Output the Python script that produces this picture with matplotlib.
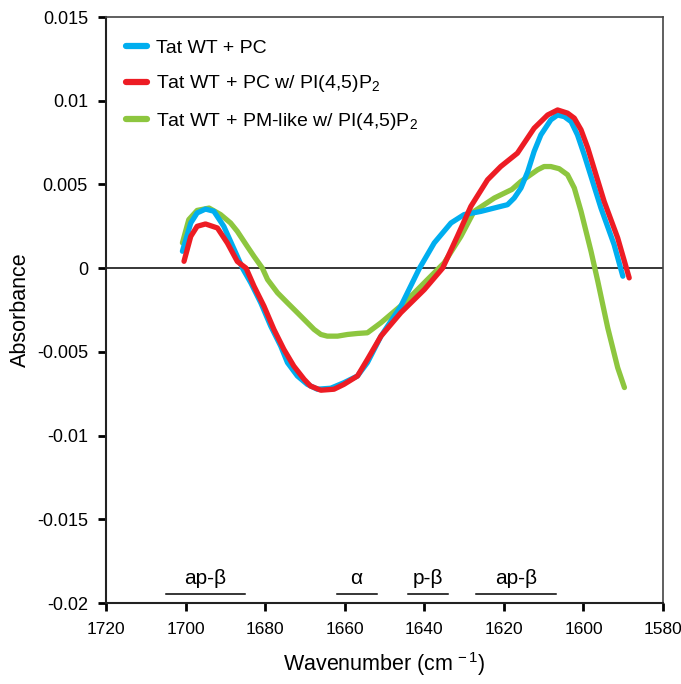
import matplotlib
matplotlib.use("Agg")
import matplotlib.pyplot as plt
from matplotlib.ticker import FixedLocator, FixedFormatter
from matplotlib.lines import Line2D

plt.rcParams['font.family'] = ['Liberation Sans', 'DejaVu Sans']
plt.rcParams['mathtext.fontset'] = 'custom'
plt.rcParams['mathtext.rm'] = 'Liberation Sans'
plt.rcParams['mathtext.it'] = 'Liberation Sans'

# ---- data ----
blue_x = [1700.8, 1698.7, 1697.1, 1695.0, 1692.9, 1690.4, 1687.0, 1685.7, 1683.6, 1681.1,
          1678.6, 1676.1, 1674.4, 1671.9, 1669.4, 1666.9, 1663.5, 1660.2, 1656.8, 1654.3,
          1650.9, 1645.9, 1641.3, 1637.5, 1633.3, 1630.0, 1625.8, 1620.8, 1619.1, 1617.4,
          1615.7, 1614.0, 1612.4, 1610.7, 1608.2, 1606.5, 1604.8, 1603.1, 1601.5, 1599.8,
          1595.6, 1592.3, 1590.1]
blue_y = [0.00101, 0.0027, 0.0033, 0.00353, 0.0034, 0.0025, 0.0007, 0.0000, -0.00088, -0.00207,
          -0.00346, -0.00465, -0.00564, -0.00644, -0.00694, -0.00723, -0.00717, -0.00684, -0.00644, -0.00564,
          -0.00406, -0.00227, -0.00004, 0.00151, 0.0027, 0.0032, 0.00339, 0.00369, 0.00379, 0.00419,
          0.00479, 0.00577, 0.00697, 0.00796, 0.00886, 0.00915, 0.00905, 0.00875, 0.00796, 0.00677,
          0.00359, 0.00141, -0.00048]

red_x = [1700.4, 1698.7, 1697.1, 1695.0, 1692.0, 1689.5, 1687.0, 1684.8, 1682.8, 1680.3,
         1677.8, 1675.3, 1672.8, 1670.2, 1668.6, 1666.0, 1662.7, 1660.2, 1656.8, 1654.3,
         1650.9, 1645.9, 1640.0, 1635.4, 1631.7, 1628.3, 1624.1, 1620.8, 1616.6, 1612.4,
         1609.0, 1606.5, 1604.0, 1602.3, 1600.6, 1598.9, 1594.8, 1591.4, 1588.5]
red_y = [0.00041, 0.0019, 0.0025, 0.00264, 0.0024, 0.0015, 0.0004, 0.0000, -0.00108, -0.00227,
         -0.00366, -0.00485, -0.00585, -0.00664, -0.00704, -0.00729, -0.00723, -0.00694, -0.00644, -0.00545,
         -0.00406, -0.00266, -0.00128, 0.0000, 0.0019, 0.00369, 0.00528, 0.00607, 0.00687, 0.00836,
         0.00915, 0.00945, 0.00926, 0.00896, 0.00826, 0.00717, 0.00399, 0.00181, -0.00058]

green_x = [1700.8, 1699.2, 1697.1, 1694.1, 1691.2, 1688.7, 1687.0, 1684.5, 1682.8, 1680.7,
           1679.4, 1676.9, 1674.4, 1671.9, 1669.8, 1667.7, 1666.0, 1664.4, 1661.8, 1659.3,
           1656.8, 1654.3, 1650.9, 1645.0, 1639.2, 1635.0, 1630.8, 1627.5, 1622.4, 1618.0,
           1615.7, 1611.5, 1609.9, 1608.2, 1606.1, 1604.0, 1602.3, 1600.6, 1598.1, 1596.4,
           1593.9, 1591.4, 1589.7]
green_y = [0.00151, 0.0029, 0.00345, 0.00359, 0.0032, 0.0027, 0.0022, 0.0013, 0.0007, 0.0000,
           -0.00068, -0.00147, -0.00207, -0.00266, -0.00316, -0.00366, -0.00396, -0.00406, -0.00406, -0.00396,
           -0.0039, -0.00386, -0.00326, -0.00207, -0.00068, 0.00032, 0.0019, 0.00339, 0.00419, 0.00470,
           0.00518, 0.00588, 0.00607, 0.00607, 0.00594, 0.00558, 0.00479, 0.00339, 0.00101, -0.00078,
           -0.00356, -0.00594, -0.00713]

labels = ['Tat WT + PC', 'Tat WT + PC w/ PI(4,5)P$_2$', 'Tat WT + PM-like w/ PI(4,5)P$_2$']
colors = ['#00AEEF', '#ED1C24', '#8DC63F']

bands = ['ap-β', 'α', 'p-β', 'ap-β']
band_start = [1705, 1662, 1644, 1627]
band_end = [1685, 1652, 1634, 1607]

x_ticks = [1720, 1700, 1680, 1660, 1640, 1620, 1600, 1580]
y_ticks = [0.015, 0.01, 0.005, 0, -0.005, -0.01, -0.015, -0.02]
y_ticklabels = ['0.015', '0.01', '0.005', '0', '-0.005', '-0.01', '-0.015', '-0.02']

# ---- figure ----
fig = plt.figure(figsize=(6.81, 6.84), dpi=100)
ax = fig.add_axes([0.1557, 0.1184, 0.8179, 0.8567])

ax.axhline(0, color='black', lw=1.1, zorder=1)

lw = 3.8
ax.plot(green_x, green_y, color=colors[2], lw=lw, solid_capstyle='round', solid_joinstyle='round', zorder=2)
ax.plot(blue_x, blue_y, color=colors[0], lw=lw, solid_capstyle='round', solid_joinstyle='round', zorder=3)
ax.plot(red_x, red_y, color=colors[1], lw=lw, solid_capstyle='round', solid_joinstyle='round', zorder=4)

handles = [Line2D([0], [0], color=c, lw=4.5, solid_capstyle='round') for c in colors]
leg = ax.legend(handles, labels, loc='upper left', frameon=False, fontsize=14,
                handlelength=1.1, handletextpad=0.45, labelspacing=0.85,
                borderpad=0.0, borderaxespad=0.0, bbox_to_anchor=(0.036, 0.962))

for name, s, e in zip(bands, band_start, band_end):
    ax.plot([s, e], [-0.01945, -0.01945], color='black', lw=1.1, clip_on=False)
    ax.text((s + e) / 2, -0.0191, name, ha='center', va='bottom', fontsize=15)

ax.set_xlim(1720, 1580)
ax.set_ylim(-0.02, 0.015)
ax.xaxis.set_major_locator(FixedLocator(x_ticks))
ax.yaxis.set_major_locator(FixedLocator(y_ticks))
ax.yaxis.set_major_formatter(FixedFormatter(y_ticklabels))
ax.tick_params(axis='both', direction='out', length=6, width=2, pad=7)
ax.tick_params(axis='y', labelsize=13)
ax.tick_params(axis='x', labelsize=12.5, pad=8)

for side in ['left', 'bottom']:
    ax.spines[side].set_linewidth(1.5)
    ax.spines[side].set_color('#222222')
for side in ['top', 'right']:
    ax.spines[side].set_linewidth(1.2)
    ax.spines[side].set_color('#444444')

ax.set_xlabel('Wavenumber (cm$^{\\,-1}$)', fontsize=15.5, labelpad=9)
ax.set_ylabel('Absorbance', fontsize=15.5, labelpad=4)

fig.savefig('out.png', dpi=100)
